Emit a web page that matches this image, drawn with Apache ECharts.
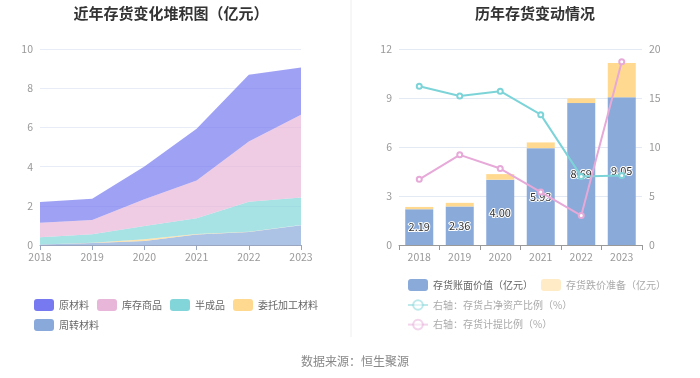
<!DOCTYPE html>
<html><head><meta charset="utf-8">
<script src="https://cdn.jsdelivr.net/npm/echarts@6/dist/echarts.min.js"></script>
<style>html,body{margin:0;padding:0;background:#fff}#c{width:700px;height:378px}</style>
</head><body><div id="c"></div>
<script>
var years = ['2018','2019','2020','2021','2022','2023'];
// 左图：近年存货变化堆积图（亿元）
var rawMaterial = [1.05, 1.08, 1.67, 2.64, 3.41, 2.41];   // 原材料
var goodsInStock = [0.75, 0.73, 1.36, 1.93, 3.07, 4.22];  // 库存商品
var semiFinished = [0.36, 0.43, 0.68, 0.80, 1.53, 1.40];  // 半成品
var consigned = [0.01, 0.02, 0.08, 0.03, 0.02, 0.01];     // 委托加工材料
var turnover = [0.02, 0.10, 0.21, 0.53, 0.66, 1.01];      // 周转材料
// 右图：历年存货变动情况
var bookValue = [2.19, 2.36, 4.00, 5.93, 8.69, 9.05];     // 存货账面价值（亿元）
var impairment = [0.14, 0.22, 0.34, 0.35, 0.29, 2.10];    // 存货跌价准备（亿元）
var netAssetRatio = [16.2, 15.2, 15.7, 13.3, 7.0, 7.1];   // 存货占净资产比例（%）
var provisionRatio = [6.7, 9.2, 7.8, 5.4, 3.0, 18.7];     // 存货计提比例（%）

var FONT = '"Noto Sans CJK SC","Noto Sans",sans-serif';
var chart = echarts.init(document.getElementById('c'));
function area(name, data, color){
  return {name:name, type:'line', stack:'total', data:data, xAxisIndex:0, yAxisIndex:0,
    symbol:'none', lineStyle:{width:0}, itemStyle:{color:color},
    areaStyle:{color:color, opacity:0.7}};
}
chart.setOption({
  animation:false,
  textStyle:{fontFamily:FONT},
  title:[
    {text:'近年存货变化堆积图（亿元）', left:166, top:1, textAlign:'center',
     textStyle:{fontSize:15, fontWeight:'bold', color:'#333', fontFamily:FONT}},
    {text:'历年存货变动情况', left:530, top:1, textAlign:'center',
     textStyle:{fontSize:15, fontWeight:'bold', color:'#333', fontFamily:FONT}},
    {text:'数据来源：恒生聚源', left:350, top:350, textAlign:'center',
     textStyle:{fontSize:12, fontWeight:'normal', color:'#888', fontFamily:FONT}}
  ],
  graphic:[{type:'line', shape:{x1:351, y1:0, x2:351, y2:337}, style:{stroke:'#eeeeee', lineWidth:1}}],
  legend:[
    {left:29, top:294, width:320, itemWidth:20, itemHeight:12, itemGap:8, icon:'roundRect',
     textStyle:{fontSize:10, color:'#666', fontFamily:FONT},
     data:['原材料','库存商品','半成品','委托加工材料','周转材料']},
    {left:402, top:274, width:272, itemWidth:20, itemHeight:12, itemGap:8,
     textStyle:{fontSize:10, color:'#666', fontFamily:FONT},
     data:[
       {name:'存货账面价值（亿元）', icon:'roundRect'},
       {name:'存货跌价准备（亿元）', icon:'roundRect', itemStyle:{opacity:0.5}, textStyle:{color:'#aaa'}},
       {name:'右轴：存货占净资产比例（%）', itemStyle:{opacity:0.5}, lineStyle:{opacity:0.5}, textStyle:{color:'#aaa'}},
       {name:'右轴：存货计提比例（%）', itemStyle:{opacity:0.5}, lineStyle:{opacity:0.5}, textStyle:{color:'#aaa'}}
     ]}
  ],
  grid:[
    {left:40, width:261, top:49, height:196},
    {left:399, width:243, top:49, height:196}
  ],
  xAxis:[
    {type:'category', gridIndex:0, data:years, boundaryGap:false,
     axisLine:{lineStyle:{color:'#9aa6c0'}}, axisTick:{show:true, lineStyle:{color:'#9aa6c0'}},
     axisLabel:{fontSize:10.5, color:'#999', margin:7}},
    {type:'category', gridIndex:1, data:years,
     axisLine:{lineStyle:{color:'#999'}}, axisTick:{show:true, lineStyle:{color:'#999'}},
     axisLabel:{fontSize:10.5, color:'#999', margin:7}}
  ],
  yAxis:[
    {type:'value', gridIndex:0, min:0, max:10, interval:2,
     axisLabel:{fontSize:10.5, color:'#999', margin:7},
     splitLine:{lineStyle:{color:'#e8ecf6'}}},
    {type:'value', gridIndex:1, min:0, max:12, interval:3,
     axisLabel:{fontSize:10.5, color:'#999', margin:7},
     splitLine:{lineStyle:{color:'#e3eaf4'}}},
    {type:'value', gridIndex:1, min:0, max:20, interval:5, position:'right',
     axisLabel:{fontSize:10.5, color:'#999', margin:7},
     splitLine:{show:false}}
  ],
  series:[
    area('周转材料', turnover, '#8aa9db'),
    area('委托加工材料', consigned, '#ffd98f'),
    area('半成品', semiFinished, '#82d6da'),
    area('库存商品', goodsInStock, '#e8b6d8'),
    area('原材料', rawMaterial, '#7679f0'),
    {name:'存货账面价值（亿元）', type:'bar', stack:'bar', xAxisIndex:1, yAxisIndex:1, data:bookValue,
     barWidth:28, itemStyle:{color:'#8aaad9'},
     label:{show:true, position:'inside', fontSize:11, color:'#333', textBorderColor:'#fff', textBorderWidth:2,
       formatter:function(p){return p.value.toFixed(2);}}},
    {name:'存货跌价准备（亿元）', type:'bar', stack:'bar', xAxisIndex:1, yAxisIndex:1, data:impairment,
     barWidth:28, itemStyle:{color:'#ffd98f'}},
    {name:'右轴：存货占净资产比例（%）', type:'line', xAxisIndex:1, yAxisIndex:2, data:netAssetRatio,
     symbol:'emptyCircle', symbolSize:5, lineStyle:{width:2, color:'#7dd4d8'}, itemStyle:{color:'#7dd4d8'}},
    {name:'右轴：存货计提比例（%）', type:'line', xAxisIndex:1, yAxisIndex:2, data:provisionRatio,
     symbol:'emptyCircle', symbolSize:5, lineStyle:{width:2, color:'#e6a9d8'}, itemStyle:{color:'#e6a9d8'}}
  ]
});
</script></body></html>
